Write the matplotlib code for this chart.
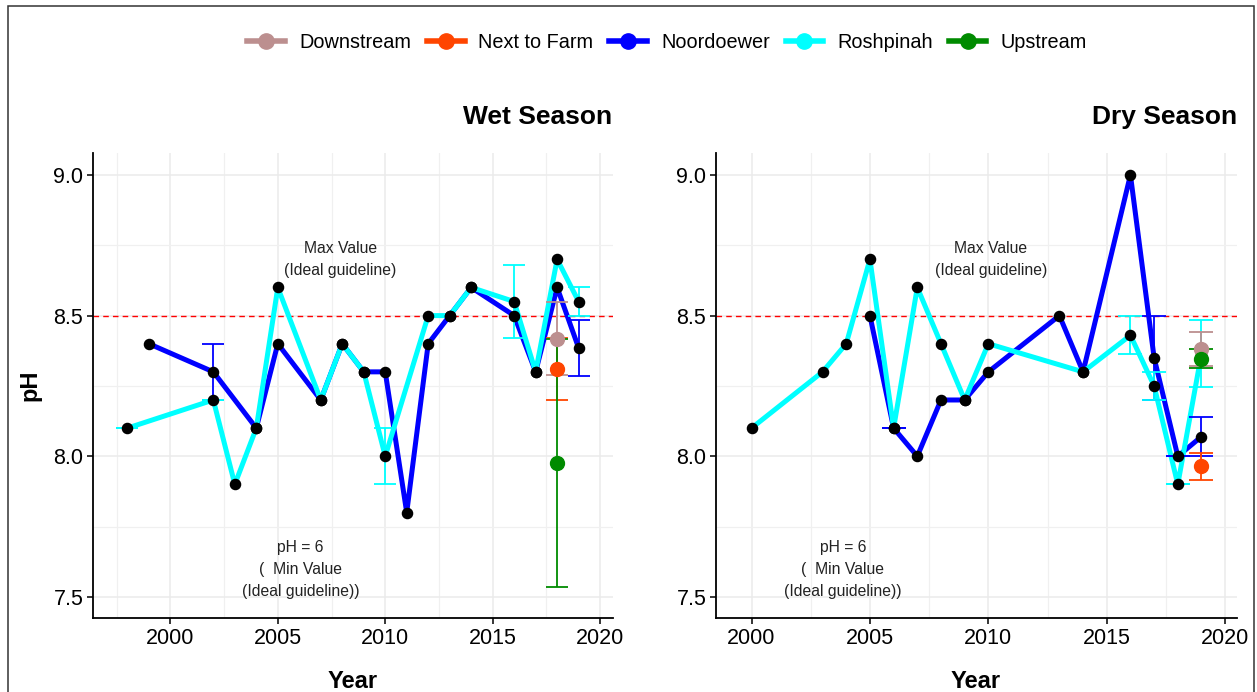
import numpy as np
import matplotlib
matplotlib.use("Agg")
import matplotlib.pyplot as plt
from matplotlib.lines import Line2D
from matplotlib.patches import Rectangle
from matplotlib.ticker import MultipleLocator

plt.rcParams['font.family'] = ['Liberation Sans', 'DejaVu Sans']

# ---- data ----
sites = ['Downstream', 'Next to Farm', 'Noordoewer', 'Roshpinah', 'Upstream']
colors = {'Downstream': '#BC8F8F', 'Next to Farm': '#FF4500', 'Noordoewer': '#0000FF',
          'Roshpinah': '#00FFFF', 'Upstream': '#008B00'}
nan = np.nan

# wet season
wet_noord_year = [1999, 2002, 2004, 2005, 2007, 2008, 2009, 2010, 2011, 2012, 2013, 2014, 2016, 2017, 2018, 2019]
wet_noord_ph = [8.4, 8.3, 8.1, 8.4, 8.2, 8.4, 8.3, 8.3, 7.8, 8.4, 8.5, 8.6, 8.5, 8.3, 8.6, 8.385]
wet_noord_sd = [nan, 0.1, nan, nan, nan, nan, nan, nan, nan, nan, nan, nan, nan, nan, nan, 0.1]

wet_rosh_year = [1998, 2002, 2003, 2004, 2005, 2007, 2008, 2009, 2010, 2012, 2013, 2014, 2016, 2017, 2018, 2019]
wet_rosh_ph = [8.1, 8.2, 7.9, 8.1, 8.6, 8.2, 8.4, 8.3, 8.0, 8.5, 8.5, 8.6, 8.55, 8.3, 8.7, 8.55]
wet_rosh_sd = [0.0, 0.0, nan, nan, nan, nan, nan, nan, 0.1, nan, nan, nan, 0.13, nan, nan, 0.05]

wet_single_year = 2018
wet_single = {'Downstream': (8.418, 0.13), 'Next to Farm': (8.31, 0.11), 'Upstream': (7.976, 0.44)}

# dry season
dry_noord_year = [2005, 2006, 2007, 2008, 2009, 2010, 2013, 2014, 2016, 2017, 2018, 2019]
dry_noord_ph = [8.5, 8.1, 8.0, 8.2, 8.2, 8.3, 8.5, 8.3, 9.0, 8.35, 8.0, 8.07]
dry_noord_sd = [nan, 0.0, nan, nan, nan, nan, nan, nan, nan, 0.15, 0.0, 0.07]

dry_rosh_year = [2000, 2003, 2004, 2005, 2006, 2007, 2008, 2009, 2010, 2014, 2016, 2017, 2018, 2019]
dry_rosh_ph = [8.1, 8.3, 8.4, 8.7, 8.1, 8.6, 8.4, 8.2, 8.4, 8.3, 8.43, 8.25, 7.9, 8.365]
dry_rosh_sd = [nan, nan, nan, nan, nan, nan, nan, nan, nan, nan, 0.067, 0.05, 0.0, 0.12]

dry_single_year = 2019
dry_single = {'Downstream': (8.38, 0.06), 'Next to Farm': (7.964, 0.047), 'Upstream': (8.347, 0.035)}

max_guideline = 8.5

W, H = 1257, 692
fig = plt.figure(figsize=(W / 100, H / 100), dpi=100)


def px_box(x0, x1, y0, y1):
    return [x0 / W, 1 - y1 / H, (x1 - x0) / W, (y1 - y0) / H]


def errbars(ax, x, y, sd, color, capsize):
    x = np.asarray(x, float); y = np.asarray(y, float); sd = np.asarray(sd, float)
    m = ~np.isnan(sd)
    if m.any():
        ax.errorbar(x[m], y[m], yerr=sd[m], fmt='none', ecolor=color, elinewidth=1.3,
                    capsize=capsize, capthick=1.3, zorder=3)


def panel(ax, xlim, noord, rosh, single_year, single, max_xy, min_xy):
    ax.set_xlim(*xlim)
    ax.set_ylim(7.425, 9.078)
    ax_w = ax.get_position().width * W
    capsize = 0.5 * ax_w / (xlim[1] - xlim[0]) * 0.72

    ax.axhline(max_guideline, color='red', lw=1.0, ls=(0, (4, 3)), zorder=1.5)

    for (yr, ph, sd), name in zip([noord, rosh], ['Noordoewer', 'Roshpinah']):
        ax.plot(yr, ph, color=colors[name], lw=3.6, zorder=2)
    for (yr, ph, sd), name in zip([noord, rosh], ['Noordoewer', 'Roshpinah']):
        errbars(ax, yr, ph, sd, colors[name], capsize)
    for (yr, ph, sd) in [noord, rosh]:
        ax.plot(yr, ph, 'o', color='black', ms=7.3, zorder=4)

    for name, (v, s) in single.items():
        errbars(ax, [single_year], [v], [s], colors[name], capsize)
        ax.plot([single_year], [v], 'o', color=colors[name], ms=10, zorder=5)

    ax.text(max_xy[0], max_xy[1], 'Max Value\n(Ideal guideline)', ha='center', va='center',
            fontsize=11.3, color='#222222', linespacing=1.6)
    ax.text(min_xy[0], min_xy[1], 'pH = 6\n(  Min Value\n(Ideal guideline))', ha='center',
            va='center', fontsize=11.3, color='#222222', linespacing=1.6)

    ax.xaxis.set_major_locator(MultipleLocator(5))
    ax.xaxis.set_minor_locator(MultipleLocator(2.5))
    ax.yaxis.set_major_locator(MultipleLocator(0.5))
    ax.yaxis.set_minor_locator(MultipleLocator(0.25))
    ax.yaxis.set_major_formatter(matplotlib.ticker.FormatStrFormatter('%.1f'))
    ax.grid(which='major', color='#EBEBEB', lw=1.1, zorder=0)
    ax.grid(which='minor', color='#F0F0F0', lw=0.9, zorder=0)
    ax.set_axisbelow(True)
    for s in ['top', 'right']:
        ax.spines[s].set_visible(False)
    for s in ['left', 'bottom']:
        ax.spines[s].set_linewidth(1.3)
    ax.tick_params(which='major', length=4, width=1.1, labelsize=15.5, pad=3)
    ax.tick_params(which='minor', length=0)


ax1 = fig.add_axes(px_box(93, 613, 153, 618))
ax2 = fig.add_axes(px_box(716, 1237, 153, 618))

panel(ax1, (1996.4, 2020.6),
      (wet_noord_year, wet_noord_ph, wet_noord_sd),
      (wet_rosh_year, wet_rosh_ph, wet_rosh_sd),
      wet_single_year, wet_single, (2007.9, 8.70), (2006.05, 7.597))
panel(ax2, (1998.5, 2020.5),
      (dry_noord_year, dry_noord_ph, dry_noord_sd),
      (dry_rosh_year, dry_rosh_ph, dry_rosh_sd),
      dry_single_year, dry_single, (2010.1, 8.70), (2003.86, 7.597))

fig.text(612 / W, 1 - 117 / H, 'Wet Season', ha='right', va='center', fontsize=19, fontweight='bold')
fig.text(1237 / W, 1 - 117 / H, 'Dry Season', ha='right', va='center', fontsize=19, fontweight='bold')
fig.text(30 / W, 1 - 385 / H, 'pH', rotation=90, ha='center', va='center', fontsize=17, fontweight='bold')
fig.text(353 / W, 1 - 682 / H, 'Year', ha='center', va='center', fontsize=17, fontweight='bold')
fig.text(976 / W, 1 - 682 / H, 'Year', ha='center', va='center', fontsize=17, fontweight='bold')

handles = [Line2D([], [], color=colors[s], lw=4, marker='o', ms=11) for s in sites]
fig.legend(handles, sites, loc='center', bbox_to_anchor=(667 / W, 1 - 42 / H), ncol=5,
           frameon=False, fontsize=14.3, handlelength=1.9, handletextpad=0.7, columnspacing=0.8)

fig.add_artist(Rectangle((7.5 / W, -0.1), (1254 - 7.5) / W, 1.1 - 6 / H, transform=fig.transFigure,
                         fill=False, edgecolor='#333333', lw=1.1))

fig.savefig('out.png', dpi=100)
